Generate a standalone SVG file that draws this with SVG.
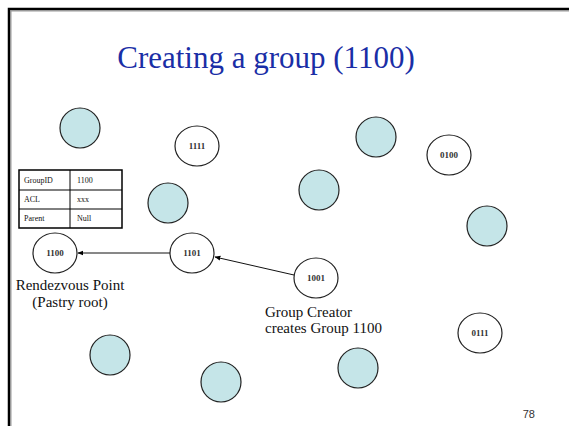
<svg xmlns="http://www.w3.org/2000/svg" width="569" height="426" viewBox="0 0 569 426">
  <defs>
    <marker id="arrow" viewBox="0 0 10 10" refX="9" refY="5" markerWidth="6" markerHeight="6" orient="auto">
      <path d="M0,1 L10,5 L0,9 z" fill="#000"/>
    </marker>
    <style>
      .peer { fill: #c5e5e8; stroke: #222; stroke-width: 1.2; }
      .node { fill: #fff; stroke: #222; stroke-width: 1.2; }
      .nlab { font-family: "Liberation Serif", "DejaVu Serif", serif; font-size: 9px; font-weight: bold; fill: #333; text-anchor: middle; }
      .cap { font-family: "Liberation Serif", "DejaVu Serif", serif; font-size: 15px; fill: #111; }
      .cell { font-family: "Liberation Serif", "DejaVu Serif", serif; font-size: 8px; fill: #111; }
      .edge { stroke: #111; stroke-width: 1; fill: none; marker-end: url(#arrow); }
    </style>
  </defs>

  <rect width="569" height="426" fill="#fff"/>
  <!-- slide frame -->
  <path d="M11,426 V11 H569" fill="none" stroke="#999" stroke-width="1"/>
  <path d="M9,426 V9 H569" fill="none" stroke="#000" stroke-width="2.5"/>

  <text x="266" y="68" font-family="Liberation Serif, DejaVu Serif, serif" font-size="31" fill="#1a2ea6" text-anchor="middle">Creating a group (1100)</text>

  <!-- plain peers -->
  <g id="peer-a"><circle class="peer" cx="80" cy="128" r="20"/></g>
  <g id="peer-b"><circle class="peer" cx="168" cy="203" r="20"/></g>
  <g id="peer-c"><circle class="peer" cx="319" cy="190" r="20"/></g>
  <g id="peer-d"><circle class="peer" cx="376" cy="137" r="20"/></g>
  <g id="peer-e"><circle class="peer" cx="487" cy="226" r="20"/></g>
  <g id="peer-f"><circle class="peer" cx="110" cy="355" r="20"/></g>
  <g id="peer-g"><circle class="peer" cx="221" cy="382" r="20"/></g>
  <g id="peer-h"><circle class="peer" cx="358" cy="368" r="20"/></g>

  <!-- labelled nodes -->
  <g id="n1111"><ellipse class="node" cx="197" cy="146" rx="22" ry="20"/><text class="nlab" x="197" y="149">1111</text></g>
  <g id="n0100"><ellipse class="node" cx="449" cy="155" rx="22" ry="20"/><text class="nlab" x="449" y="158">0100</text></g>
  <g id="n0111"><ellipse class="node" cx="480" cy="333" rx="22" ry="20"/><text class="nlab" x="480" y="336">0111</text></g>
  <g id="n1100"><ellipse class="node" cx="55" cy="253" rx="22" ry="20"/><text class="nlab" x="55" y="256">1100</text></g>
  <g id="n1101"><ellipse class="node" cx="192" cy="253" rx="22" ry="20"/><text class="nlab" x="192" y="256">1101</text></g>
  <g id="n1001"><ellipse class="node" cx="316" cy="278" rx="22" ry="20"/><text class="nlab" x="316" y="281">1001</text></g>

  <!-- group table -->
  <g id="group-table">
    <rect x="19" y="170" width="103" height="58" fill="#fff" stroke="#000" stroke-width="1.5"/>
    <line x1="70" y1="170" x2="70" y2="228" stroke="#000" stroke-width="1"/>
    <line x1="19" y1="190" x2="122" y2="190" stroke="#000" stroke-width="1"/>
    <line x1="19" y1="209" x2="122" y2="209" stroke="#000" stroke-width="1"/>
    <text class="cell" x="24" y="183">GroupID</text>
    <text class="cell" x="77" y="183">1100</text>
    <text class="cell" x="24" y="202">ACL</text>
    <text class="cell" x="77" y="202">xxx</text>
    <text class="cell" x="24" y="221">Parent</text>
    <text class="cell" x="77" y="221">Null</text>
  </g>

  <!-- connectors -->
  <g id="connectors">
    <line class="edge" x1="170" y1="253" x2="78" y2="253"/>
    <line class="edge" x1="294" y1="275" x2="215" y2="257"/>
  </g>

  <!-- captions -->
  <text class="cap" x="70" y="290" text-anchor="middle">Rendezvous Point</text>
  <text class="cap" x="70" y="307" text-anchor="middle">(Pastry root)</text>
  <text class="cap" x="265" y="317">Group Creator</text>
  <text class="cap" x="265" y="333">creates Group 1100</text>

  <text x="535" y="418" font-family="Liberation Sans, Arial, sans-serif" font-size="11" fill="#333" text-anchor="end">78</text>
</svg>
